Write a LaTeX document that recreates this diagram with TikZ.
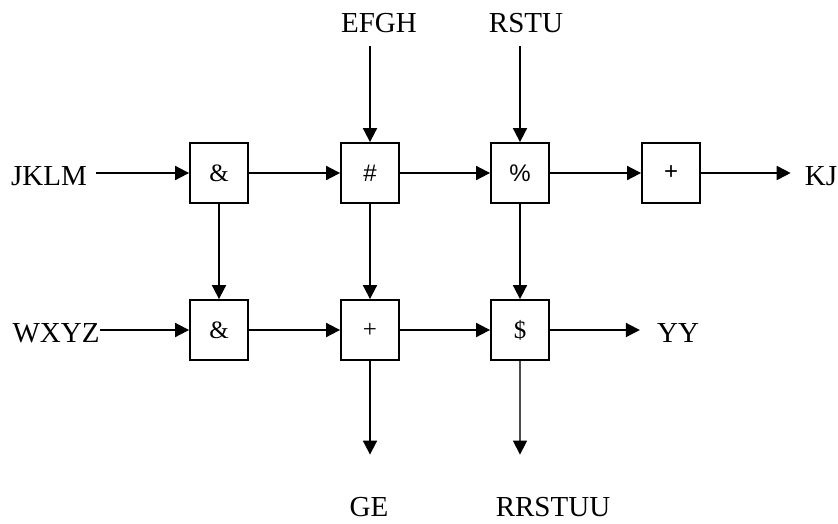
\documentclass[tikz,border=0pt]{standalone}
\usepackage{fontspec}
\setmainfont{Liberation Serif}
\newfontfamily\arialfont{Liberation Sans}
\usetikzlibrary{arrows.meta}

\begin{document}
\begin{tikzpicture}[
    x=1pt, y=-1pt,
    block/.style={draw, line width=1.8pt, minimum width=58pt, minimum height=60pt, inner sep=0pt, font=\fontsize{25}{27}\selectfont},
    sblock/.style={block, font=\arialfont\fontsize{24}{26}\selectfont},
    portname/.style={inner sep=0pt, anchor=base, font=\fontsize{29}{32}\selectfont},
    arrow/.style={-{Triangle[length=14pt,width=14pt]}, line width=1.8pt}
]
\useasboundingbox (0,0) rectangle (838,523);

\node[block] at (219,173) (and1) {\&};
\node[sblock] at (370,173) (hash) {\#};
\node[sblock] at (520,173) (pct) {\%};
\node[sblock] at (671,173) (plus1) {+};
\node[block] at (219,330) (and2) {\&};
\node[block] at (370,330) (plus2) {+};
\node[block] at (520,330) (dollar) {\$};

\node[portname] at (49,185) (jklm) {JKLM};
\node[portname] at (56,342) (wxyz) {WXYZ};
\node[portname] at (379,32) (efgh) {EFGH};
\node[portname] at (526,32) (rstu) {RSTU};
\node[portname] at (821,185) (kj) {KJ};
\node[portname] at (678,342) (yy) {YY};
\node[portname] at (369,516) (ge) {GE};
\node[portname] at (553,516) (rrstuu) {RRSTUU};

\draw[arrow, shorten <=9pt] (jklm.east |- and1) -- (and1);
\draw[arrow] (and1) -- (hash);
\draw[arrow] (hash) -- (pct);
\draw[arrow] (pct) -- (plus1);
\draw[arrow, shorten >=14pt] (plus1) -- (kj.west |- plus1);

\draw[arrow] (wxyz.east |- and2) -- (and2);
\draw[arrow] (and2) -- (plus2);
\draw[arrow] (plus2) -- (dollar);
\draw[arrow, shorten >=17pt] (dollar) -- (yy.west |- dollar);

\draw[arrow, shorten <=14pt] (efgh.south -| hash) -- (hash);
\draw[arrow, shorten <=14pt] (rstu.south -| pct) -- (pct);
\draw[arrow] (and1) -- (and2);
\draw[arrow] (hash) -- (plus2);
\draw[arrow] (pct) -- (dollar);
\draw[arrow, shorten >=42pt] (plus2) -- (ge.north -| plus2);
\draw[-{Triangle[length=14pt,width=14pt,black]}, line width=1.3pt, black!70, shorten >=42pt] (dollar) -- (rrstuu.north -| dollar);
\end{tikzpicture}
\end{document}
